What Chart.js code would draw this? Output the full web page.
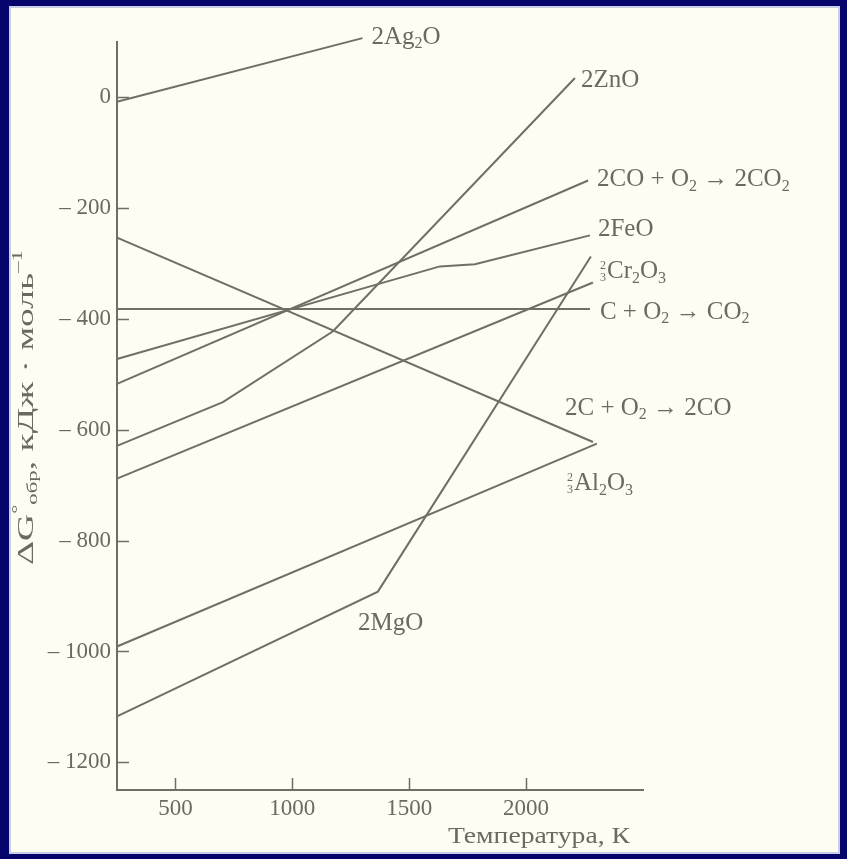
<!DOCTYPE html>
<html><head><meta charset="utf-8">
<script src="https://cdn.jsdelivr.net/npm/chart.js@4.4.1/dist/chart.umd.min.js"></script>
<style>html,body{margin:0;padding:0;background:#05056b;overflow:hidden}#c{display:block}</style>
</head><body>
<canvas id="c" width="847" height="859"></canvas>
<script>
// ---- data (temperature K, ΔG kJ/mol) ----
const xTicks = [500, 1000, 1500, 2000];
const yTicks = [0, -200, -400, -600, -800, -1000, -1200];
const ag2oT = [250, 1300];            const ag2oG = [-8, 107];
const znoT = [250, 703, 1174, 2209];  const znoG = [-629, -550, -422, 35];
const co2coT = [250, 2265];           const co2coG = [-517, -150];
const feoT = [250, 1631, 1781, 2273]; const feoG = [-472, -305, -301, -249];
const cr2o3T = [250, 2286];           const cr2o3G = [-688, -334];
const cco2T = [250, 2273];            const cco2G = [-382, -382];
const ccoT = [250, 2286];             const ccoG = [-253, -622];
const al2o3T = [250, 2303];           const al2o3G = [-991, -625];
const mgoT = [250, 1366, 2277];       const mgoG = [-1117, -892, -287];

const LINE = '#6f6f64', TEXT = '#6a6a60', FONT = '"Liberation Serif", "DejaVu Serif", serif';
const FS = 25;

function pts(T, G) { return T.map((t, i) => ({x: t, y: G[i]})); }
const series = [
  {T: ag2oT, G: ag2oG, lab: [['2Ag'], ['2','sub'], ['O']], at: 1, dx: 9, dy: -1},
  {T: znoT, G: znoG, lab: [['2ZnO']], at: 3, dx: 6, dy: 2},
  {T: co2coT, G: co2coG, lab: [['2CO + O'], ['2','sub'], [' → 2CO'], ['2','sub']], at: 1, dx: 9, dy: -1},
  {T: feoT, G: feoG, lab: [['2FeO']], at: 3, dx: 8, dy: -6},
  {T: cr2o3T, G: cr2o3G, lab: [['2','frac','3'], ['Cr'], ['2','sub'], ['O'], ['3','sub']], at: 1, dx: 7, dy: -11},
  {T: cco2T, G: cco2G, lab: [['C + O'], ['2','sub'], [' → CO'], ['2','sub']], at: 1, dx: 10, dy: 3},
  {T: ccoT, G: ccoG, lab: [['2C + O'], ['2','sub'], [' → 2CO']], at: 1, dx: -28, dy: -34},
  {T: al2o3T, G: al2o3G, lab: [['2','frac','3'], ['Al'], ['2','sub'], ['O'], ['3','sub']], at: 1, dx: -30, dy: 40},
  {T: mgoT, G: mgoG, lab: [['2MgO']], at: 1, dx: -20, dy: 32},
];

function drawRich(ctx, segs, x, y, size) {
  ctx.textBaseline = 'middle';
  ctx.textAlign = 'left';
  const small = Math.round(size * 0.62);
  let cx = x;
  for (const s of segs) {
    const kind = s[1];
    if (kind === 'sub' || kind === 'sup') {
      ctx.font = small + 'px ' + FONT;
      ctx.fillText(s[0], cx, y + (kind === 'sub' ? size * 0.28 : -size * 0.38));
      cx += ctx.measureText(s[0]).width;
    } else if (kind === 'frac') {
      const fs = Math.round(size * 0.48);
      ctx.font = fs + 'px ' + FONT;
      const w = Math.max(ctx.measureText(s[0]).width, ctx.measureText(s[2]).width);
      ctx.fillText(s[0], cx, y - size * 0.22);
      ctx.fillText(s[2], cx, y + size * 0.26);
      cx += w + 1;
    } else {
      ctx.font = size + 'px ' + FONT;
      ctx.fillText(s[0], cx, y);
      cx += ctx.measureText(s[0]).width;
    }
  }
  return cx - x;
}
function richWidth(ctx, segs, size) {
  ctx.save(); ctx.globalAlpha = 0; const w = drawRich(ctx, segs, 0, 0, size); ctx.restore(); return w;
}
// draw text stretched so that it spans `span` pixels starting at x
function drawSpan(ctx, segs, x, y, size, span) {
  const w = richWidth(ctx, segs, size);
  ctx.save(); ctx.translate(x, y); ctx.scale(span / w, 1); drawRich(ctx, segs, 0, 0, size); ctx.restore();
}

const decor = {
  id: 'decor',
  beforeDraw(chart) {
    const ctx = chart.ctx;
    ctx.save();
    ctx.fillStyle = '#05056b';
    ctx.fillRect(0, 0, chart.width, chart.height);
    ctx.fillStyle = '#c9cde8';
    ctx.fillRect(9, 6, 831, 848);
    ctx.fillStyle = '#fdfdf1';
    ctx.fillRect(11, 8, 827, 844);
    ctx.restore();
  },
  afterDraw(chart) {
    const ctx = chart.ctx, xs = chart.scales.x, ys = chart.scales.y, a = chart.chartArea;
    ctx.save();
    ctx.strokeStyle = LINE; ctx.lineWidth = 1.5;
    for (const v of yTicks) { const p = Math.round(ys.getPixelForValue(v)) + 0.5; ctx.beginPath(); ctx.moveTo(a.left, p); ctx.lineTo(a.left + 12, p); ctx.stroke(); }
    for (const v of xTicks) { const p = Math.round(xs.getPixelForValue(v)) + 0.5; ctx.beginPath(); ctx.moveTo(p, a.bottom); ctx.lineTo(p, a.bottom - 12); ctx.stroke(); }
    ctx.fillStyle = TEXT;
    for (const s of series) {
      const px = xs.getPixelForValue(s.T[s.at]) + s.dx, py = ys.getPixelForValue(s.G[s.at]) + s.dy;
      drawRich(ctx, s.lab, px, py, FS);
    }
    // x title
    drawSpan(ctx, [['Температура, К']], 448, 837, 24, 182);
    // y title rotated
    const yt = [['ΔG'], ['°', 'sup'], ['обр', 'sub'], [', кДж · моль'], ['–1', 'sup']];
    ctx.translate(27, 565);
    ctx.rotate(-Math.PI / 2);
    drawSpan(ctx, yt, 0, 0, 23, 315);
    ctx.restore();
  }
};

const datasets = series.map(s => ({
  data: pts(s.T, s.G), showLine: true, borderColor: LINE, borderWidth: 2,
  pointRadius: 0, fill: false, tension: 0, clip: false
}));

new Chart(document.getElementById('c'), {
  type: 'scatter',
  data: {datasets},
  options: {
    responsive: false, animation: false, devicePixelRatio: 1,
    layout: {padding: {left: 0, right: 204, top: 42, bottom: 0}},
    plugins: {legend: {display: false}, tooltip: {enabled: false}},
    scales: {
      x: {
        type: 'linear', min: 250, max: 2500,
        afterBuildTicks: sc => { sc.ticks = xTicks.map(v => ({value: v})); },
        afterFit: sc => { sc.height = 69; },
        grid: {display: false, drawTicks: false},
        border: {display: true, color: LINE, width: 2},
        ticks: {color: TEXT, font: {family: FONT, size: 23}, padding: 5, maxRotation: 0, autoSkip: false,
          callback: v => String(v)}
      },
      y: {
        type: 'linear', min: -1250, max: 100,
        afterBuildTicks: sc => { sc.ticks = yTicks.map(v => ({value: v})); },
        afterFit: sc => { sc.width = 117; },
        grid: {display: false, drawTicks: false},
        border: {display: true, color: LINE, width: 2},
        ticks: {color: TEXT, font: {family: FONT, size: 23}, padding: 6, autoSkip: false,
          callback: v => v === 0 ? '0' : '– ' + Math.abs(v)}
      }
    }
  },
  plugins: [decor]
});
</script>
</body></html>
